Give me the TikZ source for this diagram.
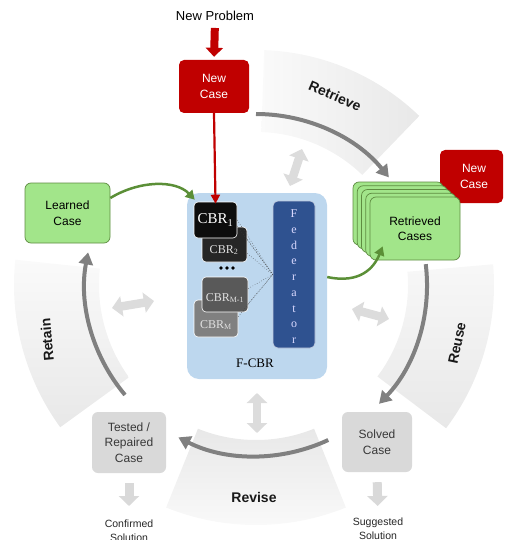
\documentclass[tikz,border=0pt]{standalone}
\usepackage{fontspec}
\setmainfont{Liberation Sans}
\newfontfamily\serifx{Liberation Serif}
\usetikzlibrary{arrows.meta,calc}
\definecolor{myred}{HTML}{C00000}
\definecolor{grn}{HTML}{A2E58A}
\definecolor{grnd}{HTML}{5E8C41}
\definecolor{garrow}{HTML}{5B8F37}
\definecolor{cycg}{HTML}{808080}
\definecolor{boxg}{HTML}{D9D9D9}
\definecolor{fcbrc}{HTML}{BDD7EE}
\definecolor{fedc}{HTML}{2F5290}
\definecolor{dblg}{HTML}{DCDCDC}
\begin{document}
\begin{tikzpicture}[x=1pt,y=1pt,
  every node/.style={align=center, inner sep=0pt},
  txt/.style={font=\fontsize{12}{15.5}\selectfont},
  rbox/.style={txt, fill=myred, text=white, rounded corners=5pt},
  gbox/.style={txt, fill=grn, draw=grnd, line width=0.7pt, rounded corners=6pt},
  graybox/.style={txt, fill=boxg, text=black!78, rounded corners=6pt},
  cbrbox/.style={draw=white, line width=0.6pt, rounded corners=4pt},
  cbrtxt/.style={font=\serifx\fontsize{12}{14}\selectfont, text=white!88!black},
  fedl/.style={font=\serifx\fontsize{12}{14}\selectfont, text=white!85!blue, anchor=base},
  bandlbl/.style={font=\bfseries\fontsize{14}{16}\selectfont, text=black!90},
  cyc/.style={draw=cycg, line width=4pt, -{Triangle[length=12pt,width=14pt]}},
  dbl/.style={draw=dblg, line width=8.5pt, {Triangle[length=10pt,width=20pt]}-{Triangle[length=10pt,width=20pt]}},
  gblk/.style={draw=boxg, line width=9pt, -{Triangle[length=10pt,width=20pt]}},
  redblk/.style={draw=myred, line width=8pt, -{Triangle[length=9pt,width=17pt]}},
  redline/.style={draw=myred, line width=2.2pt, -{Triangle[length=9pt,width=9pt]}},
  garr/.style={draw=garrow, line width=2.5pt, -{Triangle[length=9pt,width=10pt]}},
  dotl/.style={draw=black!75, line width=0.5pt, dotted}
]
\useasboundingbox (0,0) rectangle (505,-540);
\coordinate (c) at (256,-285);

% bands
\shade[left color=black!2, right color=black!9] ([shift={(46:153)}]c) arc[start angle=46,end angle=88,radius=153] -- ([shift={(88:235)}]c) arc[start angle=88,end angle=46,radius=235] -- cycle;
\shade[top color=black!3, bottom color=black!9] ([shift={(-37:152)}]c) arc[start angle=-37,end angle=5,radius=152] -- ([shift={(5:238)}]c) arc[start angle=5,end angle=-37,radius=238] -- cycle;
\shade[top color=black!9, bottom color=black!2] ([shift={(-112:155)}]c) arc[start angle=-112,end angle=-68,radius=155] -- ([shift={(-68:240)}]c) arc[start angle=-68,end angle=-112,radius=240] -- cycle;
\shade[top color=black!2, bottom color=black!9] ([shift={(174:157)}]c) arc[start angle=174,end angle=216,radius=157] -- ([shift={(216:242)}]c) arc[start angle=216,end angle=174,radius=242] -- cycle;

\node[bandlbl, rotate=-23] (lretrieve) at (335,-96) {Retrieve};
\node[bandlbl, rotate=78] (lreuse) at (457,-343) {Reuse};
\node[bandlbl] (lrevise) at (254,-497) {Revise};
\node[bandlbl, rotate=95] (lretain) at (47,-340) {Retain};

% cycle arrows
\draw[cyc] ([shift={(90:171)}]c) arc[start angle=90,end angle=39,radius=171];
\draw[cyc] ([shift={(7:171)}]c) arc[start angle=7,end angle=-44,radius=171];
\draw[cyc] ([shift={(-65:171)}]c) arc[start angle=-65,end angle=-117,radius=171];
\draw[cyc] ([shift={(220:171)}]c) arc[start angle=220,end angle=169,radius=171];

% double arrows
\coordinate (d1a) at (290,-186); \coordinate (d1b) at (302,-149);
\coordinate (d2a) at (112,-308); \coordinate (d2b) at (154,-301);
\coordinate (d3a) at (352,-309); \coordinate (d3b) at (389,-319);
\coordinate (d4a) at (257,-393); \coordinate (d4b) at (257,-433);
\draw[dbl] (d1a) -- (d1b);
\draw[dbl] (d2a) -- (d2b);
\draw[dbl] (d3a) -- (d3b);
\draw[dbl] (d4a) -- (d4b);

% top
\node[font=\fontsize{13}{15}\selectfont] (np) at (215,-16) {New Problem};
\node[rbox, minimum width=70pt, minimum height=53pt] (newcase) at (214,-86.5) {New\\Case};
\draw[redblk, shorten <=7pt, shorten >=3pt] (np.south) -- (newcase.north);

% F-CBR
\node[fill=fcbrc, rounded corners=12pt, minimum width=140pt, minimum height=186pt] (fcbr) at (257,-286) {};
\node[font=\serifx\fontsize{13}{15}\selectfont] (fcbrl) at (255,-363) {F-CBR};
\node[fill=fedc, draw=white!70!fedc, line width=0.6pt, rounded corners=5pt, minimum width=42pt, minimum height=147pt] (fed) at (294,-274.5) {};
\foreach \l [count=\i] in {F,e,d,e,r,a,t,o,r}
  \node[fedl] (fl\i) at (294,{-217.5-(\i-1)*15.75}) {\l};

\node[cbrbox, fill=black!85, minimum width=45pt, minimum height=35pt] (cbr2) at (224.5,-244.5) {};
\node[cbrbox, fill=black!95, minimum width=43pt, minimum height=36pt] (cbr1) at (215.5,-220) {};
\node[cbrtxt] (cbr2t) at (224,-250) {CBR\textsubscript{2}};
\node[cbrtxt, font=\serifx\fontsize{15}{17}\selectfont, text=white] (cbr1t) at (215.5,-220) {CBR\textsubscript{1}};
\node[cbrbox, fill=black!50, minimum width=44pt, minimum height=37pt] (cbrm) at (216,-318.5) {};
\node[cbrbox, fill=black!65, minimum width=46pt, minimum height=35pt] (cbrm1) at (225,-294.5) {};
\node[cbrtxt] (cbrm1t) at (225,-298) {CBR\textsubscript{M-1}};
\node[cbrtxt] (cbrmt) at (216,-325) {CBR\textsubscript{M}};
\foreach \dx [count=\i] in {-6,0,6}
  \fill[black] (227+\dx,-268) circle[radius=1.8];

\draw[dotl] ([yshift=0pt]cbr1.east) -- (fed.west);
\draw[dotl] ([yshift=-6pt]cbr1.east) -- (fed.west);
\draw[dotl] ([yshift=5pt]cbr2.east) -- (fed.west);
\draw[dotl] ([yshift=-9pt]cbr2.east) -- (fed.west);
\draw[dotl] ([yshift=6pt]cbrm1.east) -- (fed.west);
\draw[dotl] ([yshift=-9pt]cbrm1.east) -- (fed.west);
\draw[dotl] ([yshift=2pt]cbrm.east) -- (fed.west);

\draw[redline, shorten >=-2pt] (newcase.south) -- (cbr1.north);

% right
\node[rbox, minimum width=63pt, minimum height=53pt] (newcase2) at (471.5,-176.5) {\hspace*{5pt}New\\\hspace*{5pt}Case};
\foreach \i in {4,3,2,1}
  \node[gbox, minimum width=90pt, minimum height=63pt] (rc\i) at ({415-4.25*\i},{-228.5+3.75*\i}) {};
\node[gbox, minimum width=90pt, minimum height=63pt] (ret) at (415,-228.5) {Retrieved\\Cases};

% left
\node[gbox, minimum width=85pt, minimum height=60pt] (learned) at (67.5,-213) {Learned\\Case};

% green arrows
\draw[garr] ([yshift=15pt]learned.east) .. controls (140,-180) and (176,-180) .. ([shift={(1pt,2pt)}]cbr1.north west);
\draw[garr] ([yshift=9pt]fcbr.east) .. controls (360,-284) and (374,-268) .. ([shift={(13pt,14pt)}]ret.south west);

% bottom
\node[graybox, minimum width=70pt, minimum height=60pt] (solved) at (377,-442) {Solved\\Case};
\node[graybox, minimum width=74pt, minimum height=61pt] (tested) at (129,-442.5) {Tested /\\Repaired\\Case};
\node[font=\fontsize{10.5}{13.5}\selectfont, text=black!85, anchor=north] (confirmed) at (129,-520) {Confirmed\\Solution};
\node[font=\fontsize{10.5}{13.5}\selectfont, text=black!85, anchor=north] (suggested) at (378,-518) {Suggested\\Solution};
\draw[gblk, shorten <=10pt, shorten >=14pt] (tested.south) -- (confirmed.north);
\draw[gblk, shorten <=10pt, shorten >=12pt] (solved.south) -- (suggested.north);
\end{tikzpicture}
\end{document}
